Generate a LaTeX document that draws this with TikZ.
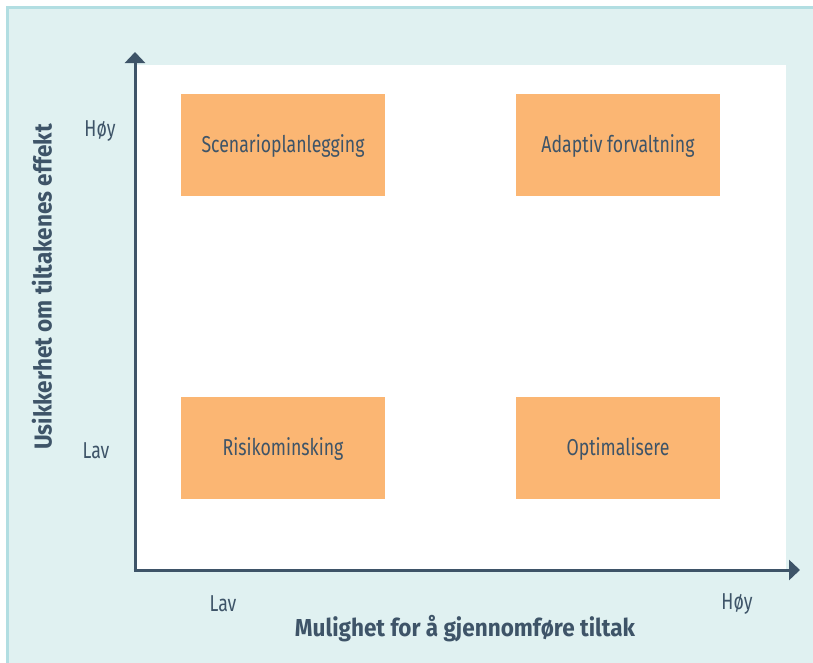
\documentclass[tikz,border=0pt]{standalone}
\usepackage{fontspec}
\setmainfont{Fira Sans}[FakeStretch=0.77]
\newfontfamily\titlefont{Fira Sans}[FakeStretch=0.92]
\usepackage{xcolor}
\usetikzlibrary{arrows.meta}

\definecolor{panelfill}{HTML}{E0F1F1}
\definecolor{panelline}{HTML}{B2DEE2}
\definecolor{axiscol}{HTML}{3E5468}
\definecolor{boxfill}{HTML}{FBB673}

\begin{document}
\begin{tikzpicture}[x=1pt,y=-1pt,
    quad/.style={rectangle,fill=boxfill,minimum width=204pt,minimum height=102pt,
      inner sep=0pt,text=axiscol,font=\fontsize{23}{26}\selectfont,
      text depth=2pt},
    ticklab/.style={text=axiscol,font=\fontsize{23}{26}\selectfont},
    axtitle/.style={text=axiscol,font=\titlefont\fontsize{24.5}{28}\selectfont\bfseries},
    axline/.style={draw=axiscol,line width=3pt,-{Triangle[width=20pt,length=11pt]}}]
        \useasboundingbox (0,0) rectangle (813,662);
        % panel and plot area
        \draw[panelline,fill=panelfill,line width=3pt] (7.5,7.5) rectangle (830,680);
        \fill[white] (135,65) rectangle (786,570);
        % quadrants
        \node[quad] (scen) at (283,145) {Scenarioplanlegging};
        \node[quad] (adap) at (618,145) {Adaptiv forvaltning};
        \node[quad] (risk) at (283,448) {Risikominsking};
        \node[quad] (opti) at (618,448) {Optimalisere};
        % axes
        \coordinate (o) at (135,570);
        \coordinate (ytop) at (135,52);
        \coordinate (xend) at (800,570);
        \draw[axline] ([yshift=-1.5pt]o) -- (ytop);
        \draw[axline] ([xshift=-1.5pt]o) -- (xend);
        % labels
        \node[ticklab] (yhigh) at (100,131) {Høy};
        \node[ticklab] (ylow) at (96,451) {Lav};
        \node[ticklab] (xlow) at (223,604) {Lav};
        \node[ticklab] (xhigh) at (737,604) {Høy};
        \node[axtitle] (xtitle) at (465,629) {Mulighet for å gjennomføre tiltak};
        \node[axtitle,rotate=90] (ytitle) at (42,287) {Usikkerhet om tiltakenes effekt};
    \end{tikzpicture}
\end{document}
